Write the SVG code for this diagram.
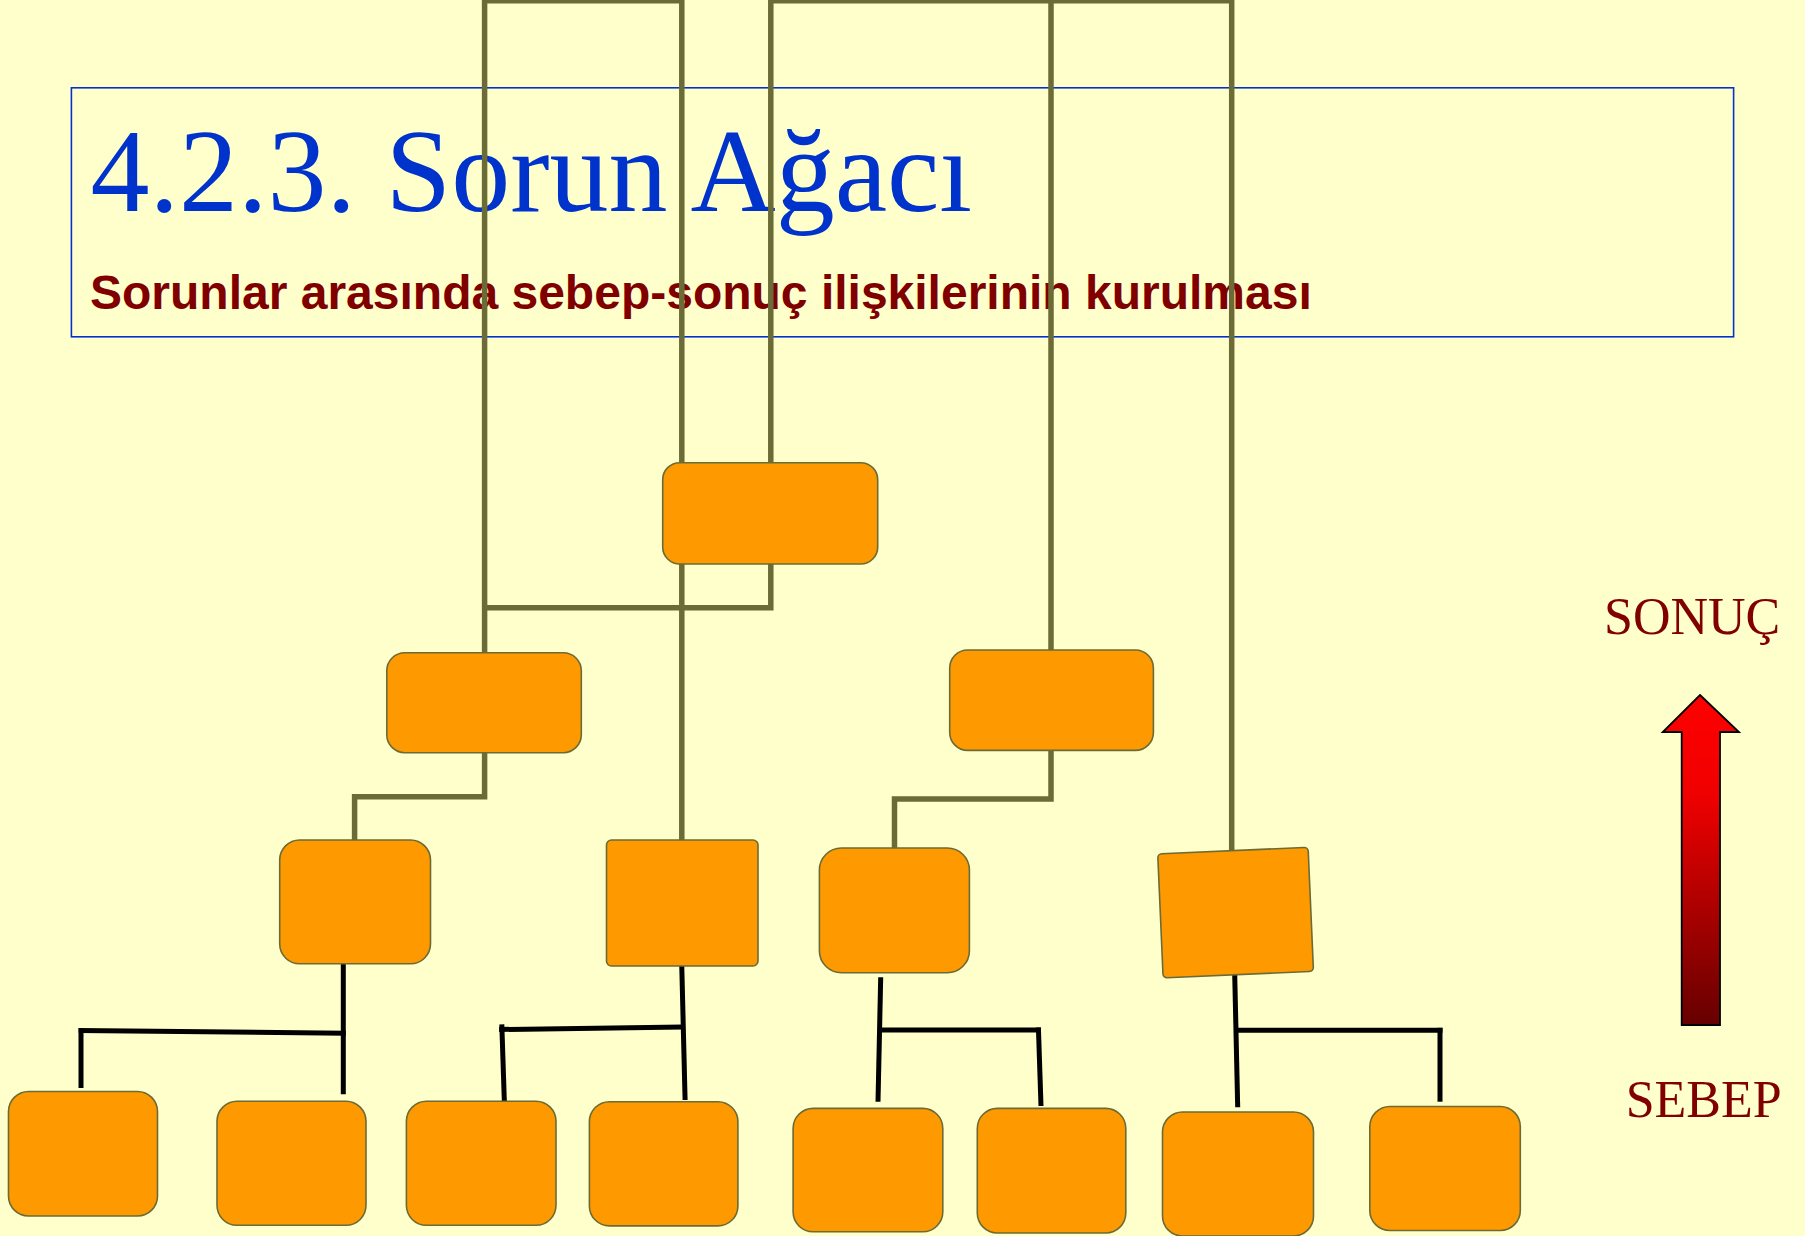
<svg xmlns="http://www.w3.org/2000/svg" width="1805" height="1236" viewBox="0 0 1805 1236">
<defs>
<linearGradient id="arrowGrad" gradientUnits="userSpaceOnUse" x1="0" y1="695" x2="0" y2="1025">
<stop offset="0" stop-color="#FF0000"/>
<stop offset="0.3" stop-color="#F00000"/>
<stop offset="1" stop-color="#660000"/>
</linearGradient>
</defs>
<style>
.node{fill:#FF9900;stroke:#6B6B35;stroke-width:1.6}
.olive{fill:none;stroke:#6B6B38;stroke-width:5.5;stroke-linejoin:miter;stroke-linecap:butt}
.blk{fill:none;stroke:#000000;stroke-width:5;stroke-linecap:butt;stroke-linejoin:miter}
.lbl{font-family:"Liberation Serif","Times New Roman",serif;fill:#800000;font-size:52px}
</style>
<rect x="0" y="0" width="1805" height="1236" fill="#FFFFCC"/>
<g id="title">
<rect x="71.4" y="87.8" width="1662.2" height="249" fill="none" stroke="#0033CC" stroke-width="1.6"/>
<text x="90.5" y="211" font-family="'Liberation Serif','Times New Roman',serif" font-size="118" fill="#0033CC">4.2.3. Sorun Ağacı</text>
<text x="90" y="309" font-family="'Liberation Sans',Arial,sans-serif" font-weight="bold" font-size="48" fill="#800000">Sorunlar arasında sebep-sonuç ilişkilerinin kurulması</text>
</g>
<g id="connectors">
<path class="olive" d="M484.6,652.7 V0.8 H681.8 V840"/>
<path class="olive" d="M770.8,463 V0.8 H1231.7 V850"/>
<path class="olive" d="M1051,0.8 V650"/>
<path class="olive" d="M770.8,564 V607.8 H484.6"/>
<path class="olive" d="M484.6,752.8 V796.7 H354.6 V840"/>
<path class="olive" d="M1051,750.4 V799 H894.5 V848"/>
<path class="blk" d="M343.3,960.7 V1094.3"/>
<path class="blk" d="M78.7,1030.5 L345.8,1033.3"/>
<path class="blk" d="M81,1028 V1088"/>
<path class="blk" d="M681.7,963.3 L685.1,1100"/>
<path class="blk" d="M499.1,1029.5 L683,1027"/>
<path class="blk" d="M501.8,1024.3 L504.5,1106"/>
<path class="blk" d="M880.7,977.3 L878,1101.7"/>
<path class="blk" d="M879,1030 H1041"/>
<path class="blk" d="M1038.4,1027.5 L1041,1106"/>
<path class="blk" d="M1234.7,974 L1237.7,1107.3"/>
<path class="blk" d="M1234.7,1030.3 H1442.5"/>
<path class="blk" d="M1440,1027.8 V1101.7"/>
</g>
<g id="n-top"><rect class="node" x="662.7" y="462.7" width="215" height="101.3" rx="17"/></g>
<g id="n-s1"><rect class="node" x="386.8" y="652.7" width="194.5" height="100" rx="18"/></g>
<g id="n-s2"><rect class="node" x="949.7" y="650" width="203.7" height="100.4" rx="18"/></g>
<g id="n-t1"><rect class="node" x="279.7" y="840" width="150.8" height="123.8" rx="20"/></g>
<g id="n-t2"><rect class="node" x="606.5" y="840" width="151.5" height="126" rx="5"/></g>
<g id="n-t3"><rect class="node" x="819.4" y="848" width="150" height="124.7" rx="22"/></g>
<g id="n-t4"><rect class="node" x="-75.25" y="-62.05" width="150.5" height="124.1" rx="4" transform="translate(1235.6,912.6) rotate(-2.5)"/></g>
<g id="n-b1"><rect class="node" x="8.5" y="1091.5" width="149" height="124.5" rx="20"/></g>
<g id="n-b2"><rect class="node" x="217" y="1101.3" width="149" height="124" rx="20"/></g>
<g id="n-b3"><rect class="node" x="406.4" y="1101.3" width="149.6" height="124" rx="20"/></g>
<g id="n-b4"><rect class="node" x="589.4" y="1101.7" width="148.5" height="124.2" rx="20"/></g>
<g id="n-b5"><rect class="node" x="793.1" y="1108.4" width="149.7" height="123.4" rx="20"/></g>
<g id="n-b6"><rect class="node" x="977.3" y="1108.4" width="148.5" height="124.6" rx="20"/></g>
<g id="n-b7"><rect class="node" x="1162.5" y="1112" width="151" height="124" rx="20"/></g>
<g id="n-b8"><rect class="node" x="1369.8" y="1106.5" width="150.5" height="124" rx="20"/></g>
<g id="legend">
<text class="lbl" x="1604" y="634">SONUÇ</text>
<polygon points="1700,695 1739,732 1720,732 1720,1025 1681.7,1025 1681.7,732 1662.7,732" fill="url(#arrowGrad)" stroke="#000000" stroke-width="1.8" stroke-linejoin="miter"/>
<text class="lbl" x="1625.7" y="1116.7">SEBEP</text>
</g>
</svg>
